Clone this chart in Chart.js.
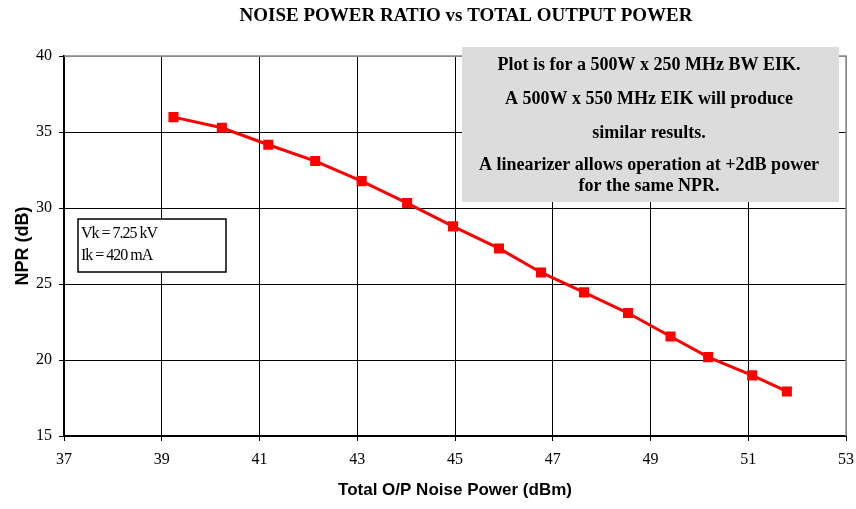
<!DOCTYPE html>
<html>
<head>
<meta charset="utf-8">
<script src="https://cdn.jsdelivr.net/npm/chart.js@4/dist/chart.umd.min.js"></script>
<style>
  body { margin: 0; background: #fff; }
  #wrap { width: 856px; height: 509px; }
</style>
</head>
<body>
<div id="wrap"><canvas id="myChart" width="856" height="509"></canvas></div>
<script>
// values
var outputPower = [39.24, 40.23, 41.18, 42.14, 43.09, 44.02, 44.96, 45.9, 46.76, 47.64, 48.54, 49.41, 50.18, 51.08, 51.79];
var nprValues   = [35.98, 35.28, 34.16, 33.09, 31.77, 30.32, 28.79, 27.34, 25.76, 24.45, 23.09, 21.55, 20.19, 18.99, 17.93];
var xTicks = [37, 39, 41, 43, 45, 47, 49, 51, 53];
var yTicks = [15, 20, 25, 30, 35, 40];

var chartTitle = 'NOISE POWER RATIO vs TOTAL OUTPUT POWER';
var noteLines = [
  "Plot is for a 500W x 250 MHz BW EIK.",
  "A 500W x 550 MHz EIK will produce",
  "similar results.",
  "A linearizer allows operation at +2dB power",
  "for the same NPR."
];
var condLines = ["Vk = 7.25 kV", "Ik = 420 mA"];

var serif = "'Liberation Serif', 'Times New Roman', serif";
var sans = "'Liberation Sans', Arial, sans-serif";

// title, frame and the two text boxes
var boxes = {
  id: 'boxes',
  afterDatasetsDraw: function(chart) {
    var ctx = chart.ctx;
    var a = chart.chartArea;
    ctx.save();
    ctx.fillStyle = '#000';
    ctx.font = "bold 19px " + serif;
    ctx.textAlign = 'center';
    ctx.textBaseline = 'middle';
    ctx.fillText(chartTitle, 466, 16);

    // frame: grey top/right, dark left/bottom
    ctx.strokeStyle = '#8a8a8a';
    ctx.lineWidth = 1.5;
    ctx.beginPath();
    ctx.moveTo(a.left, a.top);
    ctx.lineTo(a.right, a.top);
    ctx.lineTo(a.right, a.bottom);
    ctx.stroke();

    // note box
    ctx.fillStyle = '#dcdcdc';
    ctx.fillRect(462, 47, 377, 155);
    ctx.fillStyle = '#000';
    ctx.font = "bold 18px " + serif;
    var ys = [65, 99, 133, 165, 186];
    for (var i = 0; i < noteLines.length; i++) {
      ctx.fillText(noteLines[i], 649, ys[i]);
    }

    // conditions box
    ctx.fillStyle = '#fff';
    ctx.fillRect(78, 219, 148, 53);
    ctx.strokeStyle = '#000';
    ctx.lineWidth = 1.5;
    ctx.strokeRect(78, 219, 148, 53);
    ctx.fillStyle = '#000';
    ctx.font = "16px " + serif;
    ctx.letterSpacing = '-1px';
    ctx.textAlign = 'left';
    ctx.fillText(condLines[0], 81, 234);
    ctx.fillText(condLines[1], 81, 256);
    ctx.restore();
  }
};

var chart = new Chart(document.getElementById('myChart').getContext('2d'), {
  type: 'scatter',
  data: {
    datasets: [{
      data: outputPower.map(function(x, i) { return { x: x, y: nprValues[i] }; }),
      showLine: true,
      borderColor: '#ff0000',
      backgroundColor: '#ff0000',
      borderWidth: 3,
      pointStyle: 'rect',
      pointRadius: 5,
      pointHoverRadius: 5
    }]
  },
  options: {
    responsive: false,
    animation: false,
    layout: { padding: { left: 0, right: 10, top: 56, bottom: 0 } },
    plugins: {
      legend: { display: false },
      tooltip: { enabled: false },
      title: { display: false }
    },
    scales: {
      x: {
        type: 'linear',
        min: 37, max: 53,
        afterBuildTicks: function(s) { s.ticks = xTicks.map(function(v) { return { value: v }; }); },
        afterFit: function(s) { s.height = 73; s.paddingLeft = 0; s.paddingRight = 0; },
        grid: {
          color: function(c) { return c.tick && c.tick.value === 53 ? '#8a8a8a' : '#000'; },
          lineWidth: 1,
          tickLength: 5,
          tickColor: '#000'
        },
        border: { color: '#000', width: 2 },
        ticks: { color: '#000', font: { family: serif, size: 16 }, padding: 9, maxRotation: 0 },
        title: {
          display: true,
          text: 'Total O/P Noise Power (dBm)',
          color: '#000',
          font: { family: sans, size: 17, weight: 'bold' },
          padding: { top: 0, bottom: 8 }
        }
      },
      y: {
        min: 15, max: 40,
        afterBuildTicks: function(s) { s.ticks = yTicks.map(function(v) { return { value: v }; }); },
        afterFit: function(s) { s.width = 64; s.paddingTop = 0; s.paddingBottom = 0; },
        grid: {
          color: function(c) { return c.tick && c.tick.value === 40 ? '#8a8a8a' : '#000'; },
          lineWidth: 1,
          tickLength: 5,
          tickColor: '#000'
        },
        border: { color: '#000', width: 2 },
        ticks: { color: '#000', font: { family: serif, size: 16 }, padding: 7 },
        title: {
          display: true,
          text: 'NPR (dB)',
          color: '#000',
          font: { family: sans, size: 18, weight: 'bold' },
          padding: { top: 12, bottom: 0 }
        }
      }
    }
  },
  plugins: [boxes]
});
</script>
</body>
</html>
